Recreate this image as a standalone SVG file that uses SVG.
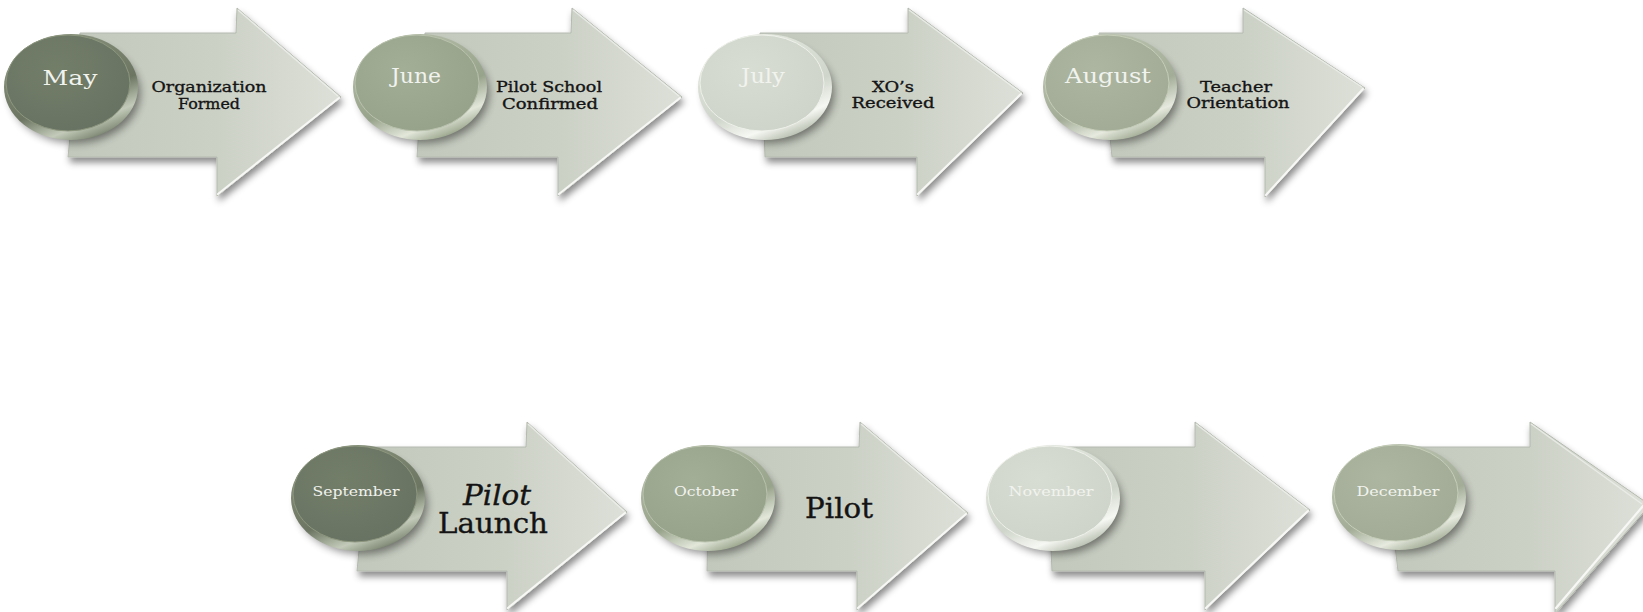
<svg xmlns="http://www.w3.org/2000/svg" width="1643" height="612" viewBox="0 0 1643 612">
<defs>
<style>
.arrow{fill:url(#arrowFill);stroke:#b4baaf;stroke-width:1;filter:url(#shadow)}
.hl{fill:none;stroke:#f7f8f5;stroke-width:2.2;stroke-linecap:round}
.hl2{fill:none;stroke:#eef0eb;stroke-width:1.4;opacity:.8}
.lbl{font-family:"DejaVu Serif","Liberation Serif",serif;fill:#141414;stroke:#141414;stroke-width:0.35;text-anchor:middle}
.mon{font-family:"DejaVu Serif","Liberation Serif",serif;fill:#f1f3ee;text-anchor:middle}
.cshadow{fill:#000;opacity:.45;filter:url(#blur)}
</style>
<linearGradient id="arrowFill" x1="0" y1="0" x2="1" y2="0">
<stop offset="0" stop-color="#c2c8bc"/>
<stop offset="0.55" stop-color="#ccd1c6"/>
<stop offset="1" stop-color="#dde0d8"/>
</linearGradient>
<filter id="shadow" x="-10%" y="-10%" width="125%" height="130%">
<feDropShadow dx="2" dy="5" stdDeviation="3.5" flood-color="#000" flood-opacity="0.45"/>
</filter>
<filter id="blur" x="-20%" y="-20%" width="140%" height="140%">
<feGaussianBlur stdDeviation="4"/>
</filter>
<linearGradient id="rimDark" x1="0.25" y1="0" x2="0.75" y2="1">
<stop offset="0" stop-color="#8a947e"/>
<stop offset="0.6" stop-color="#6b7561"/>
<stop offset="0.82" stop-color="#c3cab9"/>
<stop offset="0.93" stop-color="#8a9480"/>
<stop offset="1" stop-color="#56604d"/>
</linearGradient>
<radialGradient id="faceDark" cx="0.4" cy="0.35" r="0.7">
<stop offset="0" stop-color="#737e69"/>
<stop offset="1" stop-color="#687262"/>
</radialGradient>
<linearGradient id="rimMid" x1="0.25" y1="0" x2="0.75" y2="1">
<stop offset="0" stop-color="#b6bfaa"/>
<stop offset="0.6" stop-color="#98a38b"/>
<stop offset="0.82" stop-color="#e2e7da"/>
<stop offset="0.93" stop-color="#a8b29b"/>
<stop offset="1" stop-color="#7d8871"/>
</linearGradient>
<radialGradient id="faceMid" cx="0.4" cy="0.35" r="0.7">
<stop offset="0" stop-color="#a3ae97"/>
<stop offset="1" stop-color="#97a28b"/>
</radialGradient>
<linearGradient id="rimLight" x1="0.25" y1="0" x2="0.75" y2="1">
<stop offset="0" stop-color="#e6eae2"/>
<stop offset="0.6" stop-color="#cfd5ca"/>
<stop offset="0.82" stop-color="#f6f8f3"/>
<stop offset="0.93" stop-color="#c4cabd"/>
<stop offset="1" stop-color="#a5ad9e"/>
</linearGradient>
<radialGradient id="faceLight" cx="0.4" cy="0.35" r="0.7">
<stop offset="0" stop-color="#d8ddd3"/>
<stop offset="1" stop-color="#ced4c9"/>
</radialGradient>
<linearGradient id="rimSage" x1="0.25" y1="0" x2="0.75" y2="1">
<stop offset="0" stop-color="#bfc7b4"/>
<stop offset="0.6" stop-color="#a2ac96"/>
<stop offset="0.82" stop-color="#e6eadf"/>
<stop offset="0.93" stop-color="#b0b9a4"/>
<stop offset="1" stop-color="#858f79"/>
</linearGradient>
<radialGradient id="faceSage" cx="0.4" cy="0.35" r="0.7">
<stop offset="0" stop-color="#adb6a1"/>
<stop offset="1" stop-color="#a1ab95"/>
</radialGradient>
</defs>

<g id="connectors"/>

<g id="node-may">
<path class="arrow" d="M80,33 L236,33 L237,8 L341,97 L217,196 L217,157 L68,157 Z"/>
<polyline class="hl" points="339,98 218,194"/>
<polyline class="hl2" points="238,10 338,96"/>
<ellipse class="cshadow" cx="75" cy="93" rx="65" ry="50"/>
<ellipse cx="71" cy="87" rx="67" ry="53" fill="url(#rimDark)"/>
<ellipse cx="68" cy="83" rx="62" ry="48" fill="url(#faceDark)" stroke="#8d977f" stroke-width="1"/>
<text class="mon" x="70" y="85" font-size="20" textLength="55" lengthAdjust="spacingAndGlyphs">May</text>
<text class="lbl" x="209" y="92" font-size="15" textLength="115" lengthAdjust="spacingAndGlyphs">Organization</text>
<text class="lbl" x="209" y="109" font-size="15" textLength="62" lengthAdjust="spacingAndGlyphs">Formed</text>
</g>

<g id="node-june">
<path class="arrow" d="M425,33 L571,33 L572,8 L682,97 L558,196 L558,157 L417,157 Z"/>
<polyline class="hl" points="680,98 559,194"/>
<polyline class="hl2" points="573,10 679,96"/>
<ellipse class="cshadow" cx="424" cy="93" rx="65" ry="50"/>
<ellipse cx="420" cy="87" rx="67" ry="53" fill="url(#rimMid)"/>
<ellipse cx="417" cy="83" rx="62" ry="48" fill="url(#faceMid)" stroke="#b9c2ad" stroke-width="1"/>
<text class="mon" x="416" y="83" font-size="20" textLength="50" lengthAdjust="spacingAndGlyphs">June</text>
<text class="lbl" x="549" y="92" font-size="15" textLength="106" lengthAdjust="spacingAndGlyphs">Pilot School</text>
<text class="lbl" x="550" y="109" font-size="15" textLength="96" lengthAdjust="spacingAndGlyphs">Confirmed</text>
</g>

<g id="node-july">
<path class="arrow" d="M760,33 L908,33 L908,8 L1023,93 L917,196 L917,157 L765,157 Z"/>
<polyline class="hl" points="1021,94 918,194"/>
<polyline class="hl2" points="909,10 1020,92"/>
<ellipse class="cshadow" cx="769" cy="93" rx="65" ry="50"/>
<ellipse cx="765" cy="87" rx="67" ry="53" fill="url(#rimLight)"/>
<ellipse cx="762" cy="83" rx="62" ry="48" fill="url(#faceLight)" stroke="#eef1ea" stroke-width="1"/>
<text class="mon" x="763" y="83" font-size="20" textLength="44" lengthAdjust="spacingAndGlyphs" fill="#f4f6f1">July</text>
<text class="lbl" x="893" y="92" font-size="15" textLength="42" lengthAdjust="spacingAndGlyphs">XO’s</text>
<text class="lbl" x="893" y="108" font-size="15" textLength="83" lengthAdjust="spacingAndGlyphs">Received</text>
</g>

<g id="node-august">
<path class="arrow" d="M1099,33 L1243,33 L1243,8 L1365,88 L1265,197 L1265,157 L1112,157 Z"/>
<polyline class="hl" points="1363,89 1266,195"/>
<polyline class="hl2" points="1244,10 1362,87"/>
<ellipse class="cshadow" cx="1114" cy="93" rx="65" ry="50"/>
<ellipse cx="1110" cy="87" rx="67" ry="53" fill="url(#rimSage)"/>
<ellipse cx="1107" cy="83" rx="62" ry="48" fill="url(#faceSage)" stroke="#c6ceba" stroke-width="1"/>
<text class="mon" x="1108" y="83" font-size="20" textLength="86" lengthAdjust="spacingAndGlyphs">August</text>
<text class="lbl" x="1236" y="92" font-size="15" textLength="72" lengthAdjust="spacingAndGlyphs">Teacher</text>
<text class="lbl" x="1238" y="108" font-size="15" textLength="103" lengthAdjust="spacingAndGlyphs">Orientation</text>
</g>

<g id="node-september">
<path class="arrow" d="M369,447 L526,447 L527,422 L627,512 L507,610 L507,571 L357,571 Z"/>
<polyline class="hl" points="625,513 508,608"/>
<polyline class="hl2" points="528,424 624,511"/>
<ellipse class="cshadow" cx="362" cy="504" rx="65" ry="50"/>
<ellipse cx="358" cy="498" rx="67" ry="53" fill="url(#rimDark)"/>
<ellipse cx="355" cy="494" rx="62" ry="48" fill="url(#faceDark)" stroke="#8d977f" stroke-width="1"/>
<text class="mon" x="356" y="496" font-size="12.5" textLength="87" lengthAdjust="spacingAndGlyphs">September</text>
<text class="lbl" x="497" y="505" font-size="27" font-style="italic" textLength="68" lengthAdjust="spacingAndGlyphs">Pilot</text>
<text class="lbl" x="493" y="533" font-size="27" textLength="110" lengthAdjust="spacingAndGlyphs">Launch</text>
</g>

<g id="node-october">
<path class="arrow" d="M709,447 L859,447 L860,422 L968,513 L857,610 L857,571 L707,571 Z"/>
<polyline class="hl" points="966,514 858,608"/>
<polyline class="hl2" points="861,424 965,512"/>
<ellipse class="cshadow" cx="712" cy="504" rx="65" ry="50"/>
<ellipse cx="708" cy="498" rx="67" ry="53" fill="url(#rimMid)"/>
<ellipse cx="705" cy="494" rx="62" ry="48" fill="url(#faceMid)" stroke="#b9c2ad" stroke-width="1"/>
<text class="mon" x="706" y="496" font-size="12.5" textLength="64" lengthAdjust="spacingAndGlyphs">October</text>
<text class="lbl" x="839" y="518" font-size="27" textLength="68" lengthAdjust="spacingAndGlyphs">Pilot</text>
</g>

<g id="node-november">
<path class="arrow" d="M1046,447 L1195,447 L1195,422 L1310,510 L1205,610 L1205,571 L1052,571 Z"/>
<polyline class="hl" points="1308,511 1206,608"/>
<polyline class="hl2" points="1196,424 1307,509"/>
<ellipse class="cshadow" cx="1057" cy="504" rx="65" ry="50"/>
<ellipse cx="1053" cy="498" rx="67" ry="53" fill="url(#rimLight)"/>
<ellipse cx="1050" cy="494" rx="62" ry="48" fill="url(#faceLight)" stroke="#eef1ea" stroke-width="1"/>
<text class="mon" x="1051" y="496" font-size="12.5" textLength="85" lengthAdjust="spacingAndGlyphs" fill="#f4f6f1">November</text>
</g>

<g id="node-december">
<path class="arrow" d="M1383,447 L1530,447 L1530,422 L1650,505 L1555,614 L1555,571 L1398,571 Z"/>
<polyline class="hl" points="1643,506 1556,608"/>
<polyline class="hl2" points="1531,424 1642,504"/>
<ellipse class="cshadow" cx="1403" cy="503" rx="65" ry="50"/>
<ellipse cx="1399" cy="497" rx="67" ry="53" fill="url(#rimSage)"/>
<ellipse cx="1396" cy="493" rx="62" ry="48" fill="url(#faceSage)" stroke="#c6ceba" stroke-width="1"/>
<text class="mon" x="1398" y="496" font-size="12.5" textLength="83" lengthAdjust="spacingAndGlyphs">December</text>
</g>
</svg>
